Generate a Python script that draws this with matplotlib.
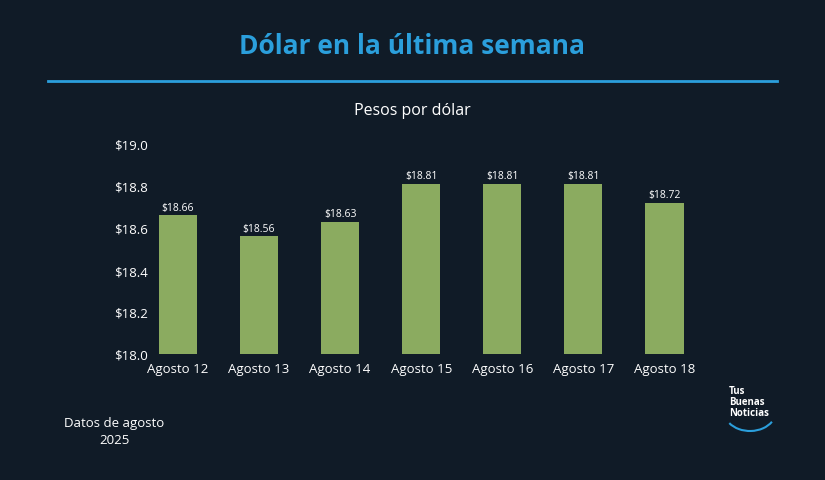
import matplotlib
matplotlib.use("Agg")
import matplotlib.pyplot as plt
from matplotlib.lines import Line2D
from matplotlib.patches import Arc

categories = ["Agosto 12", "Agosto 13", "Agosto 14", "Agosto 15", "Agosto 16", "Agosto 17", "Agosto 18"]
values = [18.66, 18.56, 18.63, 18.81, 18.81, 18.81, 18.72]
yticks = [18.0, 18.2, 18.4, 18.6, 18.8, 19.0]

W, H = 825, 481
bg = "#101b27"
plt.rcParams["font.family"] = "Open Sans"
fig = plt.figure(figsize=(W/100, H/100), dpi=100, facecolor=bg)

fig.text(412/W, 1-47/H, "Dólar en la última semana", color="#2b9fdc", fontsize=19,
         fontweight="bold", ha="center", va="center")
fig.add_artist(Line2D([48/W, 777/W], [1-82/H, 1-82/H], color="#2b9fdc", lw=2))
fig.text(412/W, 1-111/H, "Pesos por dólar", color="white", fontsize=11.5, ha="center", va="center")
fig.text(114/W, 1-424/H, "Datos de agosto", color="white", fontsize=9.5, ha="center", va="center")
fig.text(114/W, 1-440/H, "2025", color="white", fontsize=9.5, ha="center", va="center")
for i, t in enumerate(["Tus", "Buenas", "Noticias"]):
    fig.text(729/W, 1-(392+i*11)/H, t, color="white", fontsize=7, fontweight="bold", ha="left", va="center")
fig.add_artist(Arc((750/W, 1-412/H), 52/W, 40/H, theta1=225, theta2=320, color="#2b9fdc", lw=1.5,
                   transform=fig.transFigure))

left, right, top, bottom = 152, 705, 145, 355
ax = fig.add_axes([left/W, 1-bottom/H, (right-left)/W, (bottom-top)/H], facecolor=bg)
x = range(len(categories))
ax.bar(x, [v-18.0 for v in values], bottom=18.0, width=0.47, color="#8bab60")
for xi, v in zip(x, values):
    ax.text(xi, v + 0.012, f"${v:.2f}", color="white", fontsize=7.5, ha="center", va="bottom")
ax.set_xlim(-0.32, 6.5)
ax.set_ylim(18.0, 19.0)
ax.set_yticks(yticks)
ax.set_yticklabels([f"${t:.1f}" for t in yticks])
ax.set_xticks(list(x))
ax.set_xticklabels(categories)
ax.tick_params(colors="white", labelsize=9.5, length=0, pad=3)
ax.tick_params(axis="x", pad=6)
for s in ax.spines.values():
    s.set_visible(False)
fig.savefig("out.png", dpi=100, facecolor=bg)
